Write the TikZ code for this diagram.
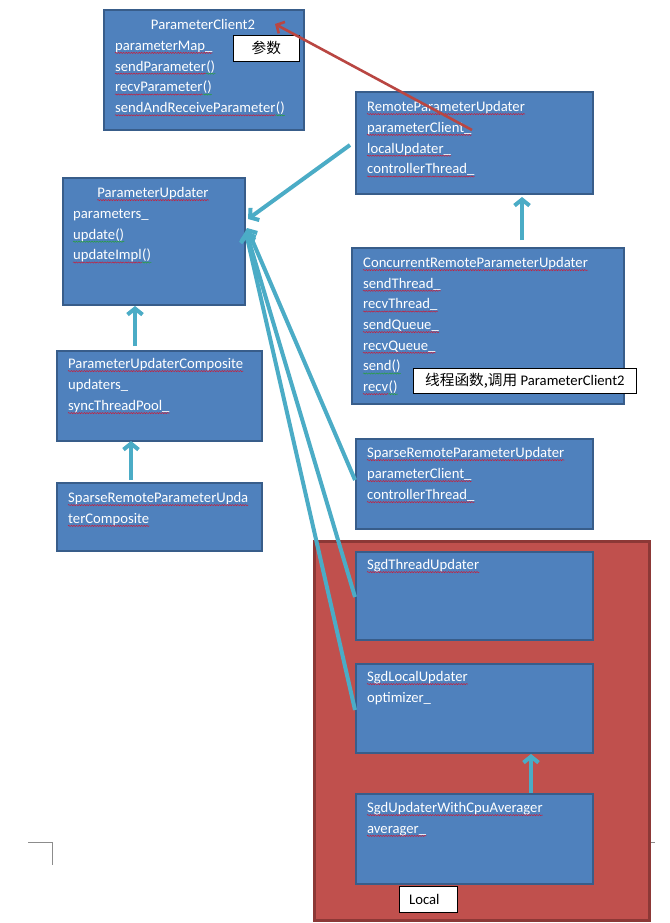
\documentclass[tikz,border=0pt]{standalone}
\usepackage{fontspec}
\setmainfont{Carlito}
\newfontfamily\cjk{Noto Sans CJK SC}
\usetikzlibrary{arrows.meta,calc,decorations.pathmorphing}
\definecolor{boxfill}{RGB}{79,129,189}
\definecolor{boxline}{RGB}{56,93,138}
\definecolor{redfill}{RGB}{192,80,77}
\definecolor{redline}{RGB}{140,56,54}
\definecolor{teal}{RGB}{75,172,198}
\definecolor{arrred}{RGB}{185,70,66}
\definecolor{spellred}{RGB}{200,30,60}
\definecolor{spellgreen}{RGB}{40,160,60}
\tikzset{
  ubox/.style={draw=boxline, fill=boxfill, line width=2pt, inner sep=0pt, anchor=north west},
  redbox/.style={draw=redline, fill=redfill, line width=2.5pt, inner sep=0pt, anchor=north west},
  lbl/.style={draw=black, fill=white, line width=0.8pt, inner sep=0pt, anchor=north west, text=black},
  txt/.style={anchor=base west, inner sep=0pt, text=white, font=\fontsize{14.67}{17}\selectfont},
  wavyr/.style={draw=spellred, line width=0.5pt, decorate, decoration={snake, amplitude=0.6pt, segment length=2.6pt}},
  wavyg/.style={draw=spellgreen, line width=0.5pt, decorate, decoration={snake, amplitude=0.6pt, segment length=2.6pt}},
  tarrow/.style={draw=teal, line width=4pt, -{Straight Barb[length=6pt, width=15pt]}},
  rarrow/.style={draw=arrred, line width=2.6pt, -{Straight Barb[length=6pt, width=13pt]}},
  corner/.style={draw=black!45, line width=0.8pt},
}
\newcommand\lineN[4]{\node[txt] (#1) at (#2,#3) {#4};}
\newcommand\lineR[4]{\node[txt] (#1) at (#2,#3) {#4};
  \draw[wavyr] ([yshift=-2.6pt]#1.base west) -- ([yshift=-2.6pt]#1.base east);}
\newcommand\lineG[4]{\node[txt] (#1) at (#2,#3) {#4};
  \draw[wavyg] ([yshift=-2.6pt]#1.base west) -- ([yshift=-2.6pt]#1.base east);}
\newcommand\lineRG[5]{\node[txt] (#1) at (#2,#3) {#4};
  \node[txt] (#1p) at (#1.base east) {#5};
  \draw[wavyr] ([yshift=-2.6pt]#1.base west) -- ([yshift=-2.6pt]#1.base east);
  \draw[wavyg] ([yshift=-2.6pt]#1p.base west) -- ([yshift=-2.6pt]#1p.base east);}
\begin{document}
\begin{tikzpicture}[x=1pt,y=-1pt]
\useasboundingbox (0,0) rectangle (669,923);
\fill[white] (0,0) rectangle (669,923);

% page corner marks
\draw[corner] (28,842) -- (52,842) -- (52,865);
\draw[corner] (648,842) -- (655,842);

% red region
\node[redbox, minimum width=335pt, minimum height=379pt] (local) at (313,540) {};

% boxes
\node[ubox, minimum width=200pt, minimum height=120pt] (pc2) at (103,9) {};
\node[ubox, minimum width=237pt, minimum height=102pt] (rpu) at (355,91) {};
\node[ubox, minimum width=182pt, minimum height=127pt] (pu) at (62,177) {};
\node[ubox, minimum width=205pt, minimum height=90pt] (puc) at (56,350) {};
\node[ubox, minimum width=205pt, minimum height=68pt] (sc) at (56,482) {};
\node[ubox, minimum width=272pt, minimum height=156pt] (cru) at (351,247) {};
\node[ubox, minimum width=237pt, minimum height=90pt] (srpu) at (355,438) {};
\node[ubox, minimum width=237pt, minimum height=88pt] (sgdt) at (355,551) {};
\node[ubox, minimum width=237pt, minimum height=89pt] (sgdl) at (355,663) {};
\node[ubox, minimum width=237pt, minimum height=90pt] (sgdc) at (355,793) {};

% ParameterClient2
\node[txt, anchor=base] (pc2t) at (203,29.5) {ParameterClient2};
\lineR{pcA}{115}{50.3}{parameterMap\_}
\lineRG{pcB}{115}{71.1}{sendParameter}{()}
\lineRG{pcC}{115}{91.9}{recvParameter}{()}
\lineRG{pcD}{115}{112.7}{sendAndReceiveParameter}{()}

% RemoteParameterUpdater
\lineR{rpuA}{367}{111.5}{RemoteParameterUpdater}
\lineR{rpuB}{367}{132.3}{parameterClient\_}
\lineR{rpuC}{367}{153.1}{localUpdater\_}
\lineR{rpuD}{367}{173.9}{controllerThread\_}

% ParameterUpdater
\node[txt, anchor=base] (put) at (153,197.5) {ParameterUpdater};
\draw[wavyr] ([yshift=-2.6pt]put.base west) -- ([yshift=-2.6pt]put.base east);
\lineN{puA}{73}{218.3}{parameters\_}
\lineG{puB}{73}{239.1}{update()}
\lineRG{puC}{73}{259.9}{updateImpl}{()}

% ParameterUpdaterComposite
\lineR{pucA}{68}{368.5}{ParameterUpdaterComposite}
\lineN{pucB}{68}{389.5}{updaters\_}
\lineR{pucC}{68}{410.5}{syncThreadPool\_}

% SparseRemoteParameterUpdaterComposite
\lineR{scA}{68}{502.5}{SparseRemoteParameterUpda}
\lineR{scB}{68}{523.3}{terComposite}

% ConcurrentRemoteParameterUpdater
\lineR{cruA}{363}{267.5}{ConcurrentRemoteParameterUpdater}
\lineR{cruB}{363}{288.2}{sendThread\_}
\lineR{cruC}{363}{308.9}{recvThread\_}
\lineR{cruD}{363}{329.5}{sendQueue\_}
\lineR{cruE}{363}{350.2}{recvQueue\_}
\lineG{cruF}{363}{370.9}{send()}
\lineRG{cruG}{363}{391.5}{recv}{()}

% SparseRemoteParameterUpdater
\lineR{srA}{367}{457.5}{SparseRemoteParameterUpdater}
\lineR{srB}{367}{478.5}{parameterClient\_}
\lineR{srC}{367}{499.5}{controllerThread\_}

% Sgd boxes
\lineR{stA}{367}{569.5}{SgdThreadUpdater}
\lineR{slA}{367}{681.5}{SgdLocalUpdater}
\lineN{slB}{367}{702.5}{optimizer\_}
\lineR{scpA}{367}{812.5}{SgdUpdaterWithCpuAverager}
\lineR{scpB}{367}{833.3}{averager\_}

% labels
\node[lbl, minimum width=66pt, minimum height=26pt] (lcan) at (233,35) {};
\node[text=black, font=\cjk\fontsize{14.67}{17}\selectfont, inner sep=0pt] (lcant) at (lcan.center) {参数};
\node[lbl, minimum width=223pt, minimum height=25pt] (lthr) at (413,368) {};
\node[text=black, inner sep=0pt, font=\fontsize{14.67}{17}\selectfont] (lthrt) at (lthr.center) {{\cjk 线程函数,调用} ParameterClient2};
\node[lbl, minimum width=58pt, minimum height=26pt] (lloc) at (399,886) {};
\node[text=black, inner sep=0pt, font=\fontsize{14.67}{17}\selectfont] (lloct) at ([xshift=-4pt]lloc.center) {Local};

% teal arrows
\draw[tarrow] ($(puc.north west)+(79,-4)$) -- ($(pu.north west)+(73,129)$);
\draw[tarrow] ($(sc.north west)+(75,-2)$) -- ($(puc.north west)+(75,91)$);
\draw[tarrow] ($(cru.north west)+(171,-7)$) -- ($(rpu.north west)+(167,106)$);
\draw[tarrow] ($(sgdc.north west)+(176,0)$) -- ($(sgdl.north west)+(176,91)$);
\draw[tarrow] ($(rpu.north west)+(-5,54)$) -- ($(pu.north east)+(2,42)$);
\draw[tarrow] ($(srpu.north west)+(0,42)$) -- ($(pu.north east)+(1,51)$);
\draw[tarrow] ($(sgdt.north west)+(0,46)$) -- ($(pu.north east)+(0,54)$);
\draw[tarrow] ($(sgdl.north west)+(0,47)$) -- ($(pu.north east)+(0,56)$);

% red arrow
\draw[rarrow] ($(rpu.north west)+(117,39)$) -- ($(pc2.north east)+(-30,15)$);
\end{tikzpicture}
\end{document}
